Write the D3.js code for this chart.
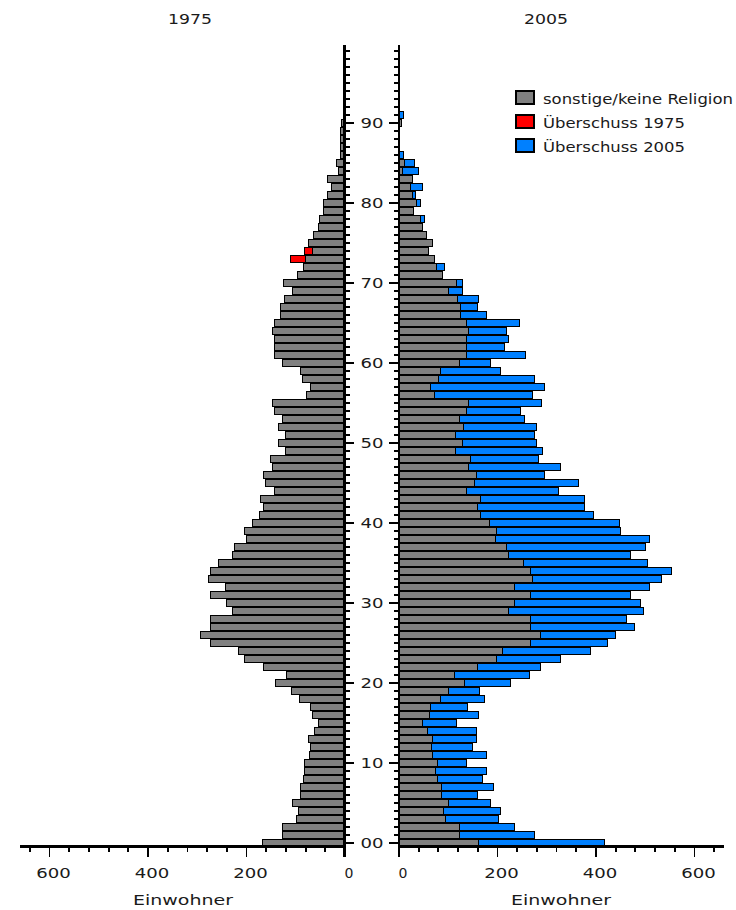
<!DOCTYPE html>
<html>
<head>
<meta charset="utf-8">
<script src="https://cdn.jsdelivr.net/npm/d3@7"></script>
<style>
  body { margin: 0; background: #fff; }
  text { font-family: "DejaVu Sans", Verdana, sans-serif; font-size: 14px; fill: #1a1a1a; }
</style>
</head>
<body>
<svg id="chart" width="736" height="910"></svg>
<script>
// Einwohner je Altersjahr (Index = Alter 0 … 91)
const gray1975 = [
  169,128,128,99,96,108,91,91,85,83,
  83,74,72,76,62,54,68,71,93,110,
  142,120,166,206,218,274,294,274,274,230,
  242,275,243,279,275,258,230,226,202,206,
  189,174,167,172,145,162,166,149,152,122,
  137,122,137,128,145,149,80,71,88,91,
  128,144,145,145,149,145,132,132,124,108,
  125,97,85,81,68,76,64,55,52,44,
  44,36,29,36,14,19,10,10,10,10,
  8,0
];
const excess1975 = [
  0,0,0,0,0,0,0,0,0,0,
  0,0,0,0,0,0,0,0,0,0,
  0,0,0,0,0,0,0,0,0,0,
  0,0,0,0,0,0,0,0,0,0,
  0,0,0,0,0,0,0,0,0,0,
  0,0,0,0,0,0,0,0,0,0,
  0,0,0,0,0,0,0,0,0,0,
  0,0,0,31,15,0,0,0,0,0,
  0,0,0,0,0,0,0,0,0,0,
  0,0
];
const gray2005 = [
  161,121,121,94,89,100,85,85,77,73,
  77,68,64,68,56,47,60,63,83,100,
  132,112,158,197,209,266,287,266,266,222,
  234,266,234,270,266,251,222,217,194,197,
  182,165,158,165,136,153,156,141,144,114,
  127,114,129,121,136,141,72,63,80,83,
  121,136,136,136,141,136,124,124,117,100,
  116,87,75,71,58,66,55,46,43,29,
  35,27,22,27,6,10,0,0,0,0,
  5,0
];
const excess2005 = [
  256,153,113,107,116,85,74,105,91,104,
  59,109,85,88,100,68,100,76,90,63,
  94,151,129,130,179,156,151,212,195,273,
  256,204,274,262,286,252,248,282,313,252,
  264,228,218,211,187,211,139,186,138,177,
  151,160,149,133,110,147,199,232,195,122,
  64,119,78,86,76,107,53,34,44,27,
  11,0,16,0,0,0,0,0,8,0,
  8,5,25,0,33,20,8,0,0,0,
  0,8
];

const years = ["1975", "2005"];
const ageTickLabels = ["00","10","20","30","40","50","60","70","80","90"];
const valueTickLabels = [0, 200, 400, 600];
const axisTitle = "Einwohner";
const legendLabels = ["sonstige/keine Religion", "\u00dcberschuss 1975", "\u00dcberschuss 2005"];

const COL_GRAY = "#808080", COL_RED = "#ff0000", COL_BLUE = "#0080ff";

const svg = d3.select("#chart");

// Scales: one row per year of age, two mirrored value axes
const y = d3.scaleLinear().domain([-0.5, 99.75]).range([847, 45]);
const xL = d3.scaleLinear().domain([0, 660]).range([345, 20]);
const xR = d3.scaleLinear().domain([0, 660]).range([399, 724]);
const ages = d3.range(gray1975.length);
const rowH = y(-0.5) - y(0.5);

const bars = svg.append("g").attr("shape-rendering", "crispEdges")
  .attr("stroke", "#000").attr("stroke-width", 1);

function row(a) { return y(a + 0.5) + 0.5; }

// 1975: grey from the axis outwards to the left, red excess beyond it
bars.selectAll("rect.g75").data(ages.filter(a => gray1975[a] > 0)).join("rect")
  .attr("x", a => xL(gray1975[a]) + 0.5)
  .attr("y", row)
  .attr("width", a => xL(0) - xL(gray1975[a]))
  .attr("height", rowH - 1)
  .attr("fill", COL_GRAY);
bars.selectAll("rect.r75").data(ages.filter(a => excess1975[a] > 0)).join("rect")
  .attr("x", a => xL(gray1975[a] + excess1975[a]) + 0.5)
  .attr("y", row)
  .attr("width", a => xL(gray1975[a]) - xL(gray1975[a] + excess1975[a]))
  .attr("height", rowH - 1)
  .attr("fill", COL_RED);

// 2005: grey from the axis to the right, blue excess stacked after it
bars.selectAll("rect.g05").data(ages.filter(a => gray2005[a] > 0)).join("rect")
  .attr("x", xR(0) + 0.5)
  .attr("y", row)
  .attr("width", a => xR(gray2005[a]) - xR(0))
  .attr("height", rowH - 1)
  .attr("fill", COL_GRAY);
bars.selectAll("rect.b05").data(ages.filter(a => excess2005[a] > 0)).join("rect")
  .attr("x", a => xR(gray2005[a]) + 0.5)
  .attr("y", row)
  .attr("width", a => xR(gray2005[a] + excess2005[a]) - xR(gray2005[a]))
  .attr("height", rowH - 1)
  .attr("fill", COL_BLUE);

// Axes
const ax = svg.append("g").attr("shape-rendering", "crispEdges");
const yTop = y(99.75), yBottom = 857;
ax.append("rect").attr("x", 342.5).attr("y", yTop).attr("width", 3.5).attr("height", yBottom - yTop).attr("fill", "#000");
ax.append("rect").attr("x", 397.7).attr("y", yTop).attr("width", 2.3).attr("height", yBottom - yTop).attr("fill", "#000");
ax.append("rect").attr("x", xL.range()[1]).attr("y", 845).attr("width", xL(0) - xL.range()[1]).attr("height", 2.6).attr("fill", "#000");
ax.append("rect").attr("x", xR(0)).attr("y", 845).attr("width", xR.range()[1] - xR(0)).attr("height", 2.6).attr("fill", "#000");

const ageTicks = y.ticks(100).filter(t => t >= 0 && t <= 99 && Number.isInteger(t));
ax.selectAll("line.tl").data(ageTicks).join("line")
  .attr("x1", 346).attr("x2", t => t % 10 === 0 ? 354 : 350)
  .attr("y1", y).attr("y2", y)
  .attr("stroke", "#000").attr("stroke-width", 1.6);
ax.selectAll("line.tr").data(ageTicks).join("line")
  .attr("x1", t => t % 10 === 0 ? 388.5 : 393.5).attr("x2", 397.7)
  .attr("y1", y).attr("y2", y)
  .attr("stroke", "#000").attr("stroke-width", 1.6);

const valueTicks = d3.range(0, 641, 40);
[xL, xR].forEach(x => {
  ax.selectAll(null).data(valueTicks.filter(v => v > 0)).join("line")
    .attr("x1", v => x(v)).attr("x2", v => x(v))
    .attr("y1", 846).attr("y2", v => valueTickLabels.includes(v) ? 857 : 852)
    .attr("stroke", "#000").attr("stroke-width", 1.8);
});

// Age labels between the two halves
svg.selectAll("text.age").data(ageTickLabels).join("text")
  .attr("x", 372).attr("y", (d, i) => y(i * 10) + 5)
  .attr("text-anchor", "middle")
  .attr("textLength", 23).attr("lengthAdjust", "spacingAndGlyphs")
  .text(d => d);

// Value labels
[xL, xR].forEach(x => {
  svg.selectAll(null).data(valueTickLabels).join("text")
    .attr("x", v => x(v) + 4).attr("y", 878)
    .attr("text-anchor", "middle")
    .each(function(v) {
      const s = String(v);
      if (s.length > 1) d3.select(this).attr("textLength", 11.5 * s.length).attr("lengthAdjust", "spacingAndGlyphs");
    })
    .text(v => v);
});

// Axis titles
[[xL, 183], [xR, 561]].forEach(([x, cx]) => {
  svg.append("text").attr("x", cx).attr("y", 905).attr("text-anchor", "middle")
    .attr("textLength", 100).attr("lengthAdjust", "spacingAndGlyphs").text(axisTitle);
});

// Year headings
svg.selectAll("text.year").data(years).join("text")
  .attr("x", (d, i) => i === 0 ? 190 : 546).attr("y", 24)
  .attr("text-anchor", "middle")
  .attr("textLength", 44).attr("lengthAdjust", "spacingAndGlyphs")
  .text(d => d);

// Legend
const legendColors = [COL_GRAY, COL_RED, COL_BLUE];
const legendWidths = [190, 142, 142];
const lg = svg.append("g");
lg.selectAll("rect").data(legendLabels).join("rect")
  .attr("x", 516).attr("y", (d, i) => 91 + i * 24)
  .attr("width", 18).attr("height", 13)
  .attr("fill", (d, i) => legendColors[i])
  .attr("stroke", "#000").attr("stroke-width", 2);
lg.selectAll("text").data(legendLabels).join("text")
  .attr("x", 543).attr("y", (d, i) => 104 + i * 24)
  .attr("textLength", (d, i) => legendWidths[i]).attr("lengthAdjust", "spacingAndGlyphs")
  .text(d => d);
</script>
</body>
</html>
